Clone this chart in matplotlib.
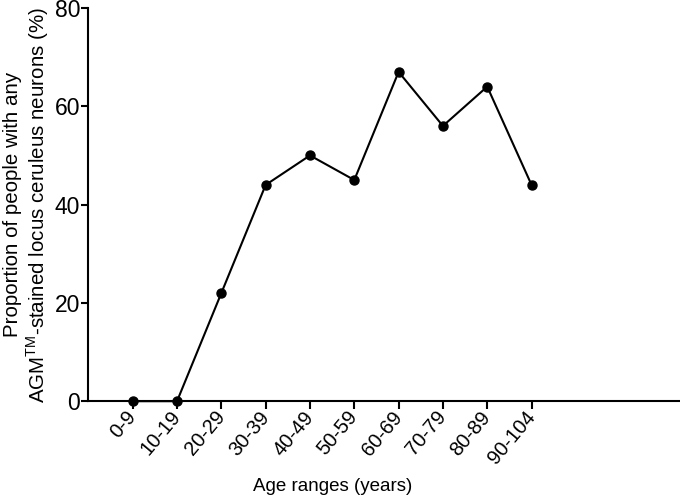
import numpy as np
import matplotlib
matplotlib.use("Agg")
import matplotlib.pyplot as plt

plt.rcParams['font.family'] = ['Liberation Sans', 'DejaVu Sans']
plt.rcParams['mathtext.fontset'] = 'custom'
plt.rcParams['mathtext.rm'] = 'Liberation Sans'

age_ranges = ['0-9', '10-19', '20-29', '30-39', '40-49', '50-59',
              '60-69', '70-79', '80-89', '90-104']
proportion = [0, 0, 22, 44, 50, 45, 67, 56, 64, 44]

fig = plt.figure(figsize=(6.8, 4.99), dpi=100)
ax = fig.add_axes([0.13, 0.196, 0.87, 0.788])

x = np.arange(len(age_ranges))
ax.plot(x, proportion, 'k-', lw=1.5, marker='o', ms=6.5, clip_on=False, zorder=3)

ax.set_xlim(-1, 12.35)
ax.set_ylim(0, 80)
ax.set_yticks([0, 20, 40, 60, 80])
ax.set_xticks(x)
ax.set_xticklabels(age_ranges, rotation=50, ha='right', va='center',
                   rotation_mode='anchor', fontsize=14.5)
ax.tick_params(axis='y', labelsize=16.5, width=1.5, length=5, pad=1)
ax.tick_params(axis='x', width=1.5, length=6, pad=3)

for side in ['top', 'right']:
    ax.spines[side].set_visible(False)
for side in ['left', 'bottom']:
    ax.spines[side].set_linewidth(1.5)

ax.set_xlabel('Age ranges (years)', fontsize=13.5, va='top')
ax.xaxis.set_label_coords(0.412, -0.195)
ax.set_ylabel('Proportion of people with any\nAGM$^{\\mathrm{TM}}$-stained locus ceruleus neurons (%)',
              fontsize=14.8, linespacing=1.1)
ax.yaxis.set_label_coords(-0.064, 0.5)

fig.savefig('out.png', dpi=100)
